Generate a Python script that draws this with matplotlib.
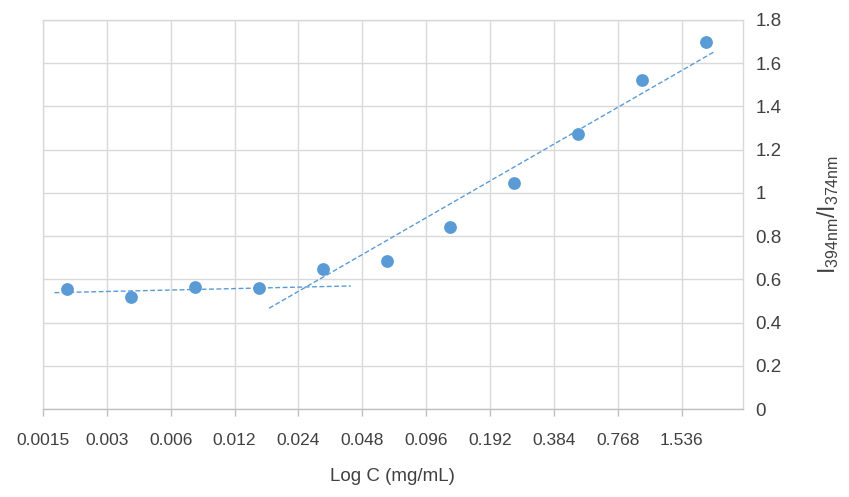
import matplotlib
matplotlib.use("Agg")
import matplotlib.pyplot as plt
import numpy as np

plt.rcParams['font.family'] = ['Liberation Sans', 'DejaVu Sans']

# concentrations (mg/mL) and intensity ratio I394/I374
conc = [2 ** k for k in range(-9, 2)]
ratio = [0.554, 0.52, 0.563, 0.562, 0.648, 0.685, 0.841, 1.048, 1.273, 1.523, 1.698]

tick_vals = [0.0015 * 2 ** k for k in range(11)]
tick_labels = ['0.0015', '0.003', '0.006', '0.012', '0.024', '0.048',
               '0.096', '0.192', '0.384', '0.768', '1.536']
y_ticks = [0, 0.2, 0.4, 0.6, 0.8, 1, 1.2, 1.4, 1.6, 1.8]
y_labels = ['0', '0.2', '0.4', '0.6', '0.8', '1', '1.2', '1.4', '1.6', '1.8']

blue = '#5B9BD5'
grey_txt = '#404040'

fig = plt.figure(figsize=(8.49, 4.97), dpi=100)
ax = fig.add_subplot(111)
fig.subplots_adjust(left=0.0506, right=0.875, top=0.9598, bottom=0.177)

ax.set_xscale('log', base=2)
ax.set_xlim(0.0015, 2.99)
ax.set_ylim(0, 1.8)

lx = np.log2(conc)
ry = np.array(ratio)


def trend(idx, lo, hi):
    # linear fit vs log2(conc), drawn between lo and hi (log2 units)
    p = np.polyfit(lx[idx], ry[idx], 1)
    xs = np.array([lo, hi])
    ax.plot(2 ** xs, np.polyval(p, xs), color=blue, lw=1.0,
            dashes=(3.5, 1.8), zorder=3)


trend(slice(0, 4), lx[0] - 0.2, lx[3] + 1.44)
trend(slice(3, 11), lx[3] + 0.16, lx[10] + 0.15)

ax.scatter(conc, ratio, s=85, color=blue, zorder=4, linewidths=0)

ax.set_xticks(tick_vals)
ax.set_xticklabels(tick_labels)
ax.xaxis.set_minor_locator(matplotlib.ticker.NullLocator())
ax.set_yticks(y_ticks)
ax.set_yticklabels(y_labels)

ax.yaxis.tick_right()
ax.tick_params(axis='y', length=0, pad=9, labelsize=13.5, labelcolor=grey_txt)
ax.tick_params(axis='x', length=5, width=1, color='#BFBFBF', pad=12,
               labelsize=12.5, labelcolor=grey_txt)

ax.grid(True, color='#D9D9D9', lw=1)
ax.set_axisbelow(True)
for s in ['top', 'right', 'left']:
    ax.spines[s].set_color('#D9D9D9')
    ax.spines[s].set_linewidth(1)
ax.spines['bottom'].set_color('#BFBFBF')
ax.spines['bottom'].set_linewidth(1)

ax.set_xlabel('Log C (mg/mL)', fontsize=13.5, color=grey_txt, labelpad=15)
ax.yaxis.set_label_position('right')
ax.set_ylabel(r'$\mathregular{I_{394nm}/I_{374nm}}$', fontsize=16.5,
              color=grey_txt, labelpad=24)

fig.savefig('out.png', dpi=100)
